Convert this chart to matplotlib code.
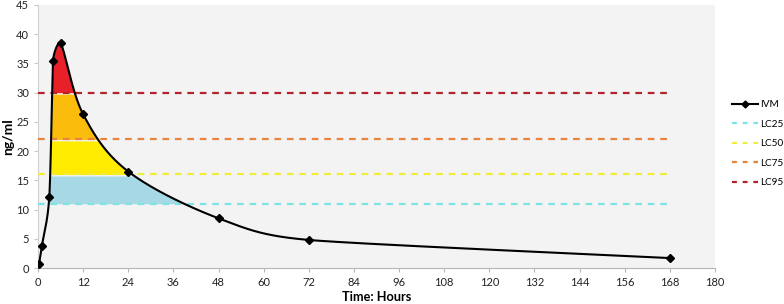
import numpy as np
import matplotlib
matplotlib.use("Agg")
import matplotlib.pyplot as plt
from matplotlib.lines import Line2D

plt.rcParams['font.family'] = ['Lato', 'DejaVu Sans']

# ---- data ----
hours = [0.25, 1, 3, 4, 6, 12, 24, 48, 72, 168]
ivm = [0.6, 3.7, 12.2, 35.5, 38.5, 26.3, 16.5, 8.5, 4.8, 1.7]
lc_names = ["LC25", "LC50", "LC75", "LC95"]
lc_values = [11, 16, 22, 30]
lc_colors = ["#7fe3e3", "#eeee3a", "#e8843e", "#b3232b"]
band_colors = ["#a7d8e6", "#ffec00", "#fbbc0c", "#e8202a"]
x_ticks = list(range(0, 181, 12))
y_ticks = list(range(0, 46, 5))

fig = plt.figure(figsize=(7.84, 3.04), dpi=100)
ax = fig.add_axes([0.0485, 0.1184, 0.8635, 0.8652])
ax.set_xlim(0, 180)
ax.set_ylim(0, 45)

# smooth curve: Excel-like Bezier in screen space
W, H = 676.0 / 180.0, 263.0 / 45.0
P = np.column_stack([np.array(hours) * W, np.array(ivm) * H])
n = len(P)
t_in = np.zeros((n, 2)); t_out = np.zeros((n, 2))
for i in range(n):
    a = max(i - 1, 0); b = min(i + 1, n - 1)
    d = P[b] - P[a]
    dl = np.hypot(*d)
    L = dl / 6.0
    if i > 0:
        L = min(L, np.hypot(*(P[i] - P[i-1])) / 2.0)
    if i < n - 1:
        L = min(L, np.hypot(*(P[i+1] - P[i])) / 2.0)
    u = d / dl
    t_in[i] = u * L; t_out[i] = u * L
    if 0 < i < n - 1 and (P[i, 1] - P[i-1, 1]) * (P[i+1, 1] - P[i, 1]) < 0:
        t_in[i] = u * L * 0.35
xs, ys = [], []
t = np.linspace(0, 1, 300)[:, None]
for i in range(n - 1):
    p0, p3 = P[i], P[i+1]
    c1 = p0 + t_out[i]
    c2 = p3 - t_in[i+1]
    B = (1-t)**3*p0 + 3*(1-t)**2*t*c1 + 3*(1-t)*t**2*c2 + t**3*p3
    xs.append(B[:, 0]); ys.append(B[:, 1])
xc = np.concatenate(xs) / W
yc = np.concatenate(ys) / H
order = np.argsort(xc, kind="stable")
xf = xc[order]; yf = yc[order]

# coloured bands under the curve
bounds = lc_values + [45]
for k in range(4):
    lo, hi = bounds[k], bounds[k + 1]
    top = np.minimum(yf, hi - 0.25)
    ax.fill_between(xf, lo, top, where=yf > lo, interpolate=True,
                    color=band_colors[k], linewidth=0, zorder=2)

for v, c in zip(lc_values, lc_colors):
    ax.plot([0, hours[-1]], [v, v], color=c, lw=1.6, dashes=(3, 2.6), zorder=3)

ax.plot(xc, yc, color="black", lw=1.5, zorder=4)
ax.plot(hours, ivm, linestyle="none", marker="D", ms=4.5, color="black", zorder=5)

ax.set_facecolor("#f3f3f3")
for s in ("top", "right"):
    ax.spines[s].set_visible(False)
ax.spines["left"].set_color("#d0d0d0")
ax.spines["bottom"].set_color("#b5b5b5")
ax.set_xticks(x_ticks)
ax.set_yticks(y_ticks)
ax.tick_params(axis="both", labelsize=8, colors="#222222", length=3, width=0.8)
ax.tick_params(axis="y", color="#c8c8c8")
ax.tick_params(axis="x", color="#b5b5b5")
ax.set_xlabel("Time: Hours", fontsize=9.2, fontweight="bold", labelpad=2)
ax.set_ylabel("ng/ml", fontsize=10, fontweight="bold", labelpad=1)

handles = [Line2D([], [], color="black", lw=1.5, marker="D", ms=3.5)]
for c in lc_colors:
    handles.append(Line2D([], [], color=c, lw=1.6, dashes=(2.2, 2.6)))
fig.legend(handles, ["IVM"] + lc_names, loc="upper left",
           bbox_to_anchor=(0.928, 0.683), frameon=False, fontsize=7.2,
           handlelength=2.6, handletextpad=0.25, labelspacing=1.05,
           borderaxespad=0)

fig.savefig("out.png", dpi=100)
